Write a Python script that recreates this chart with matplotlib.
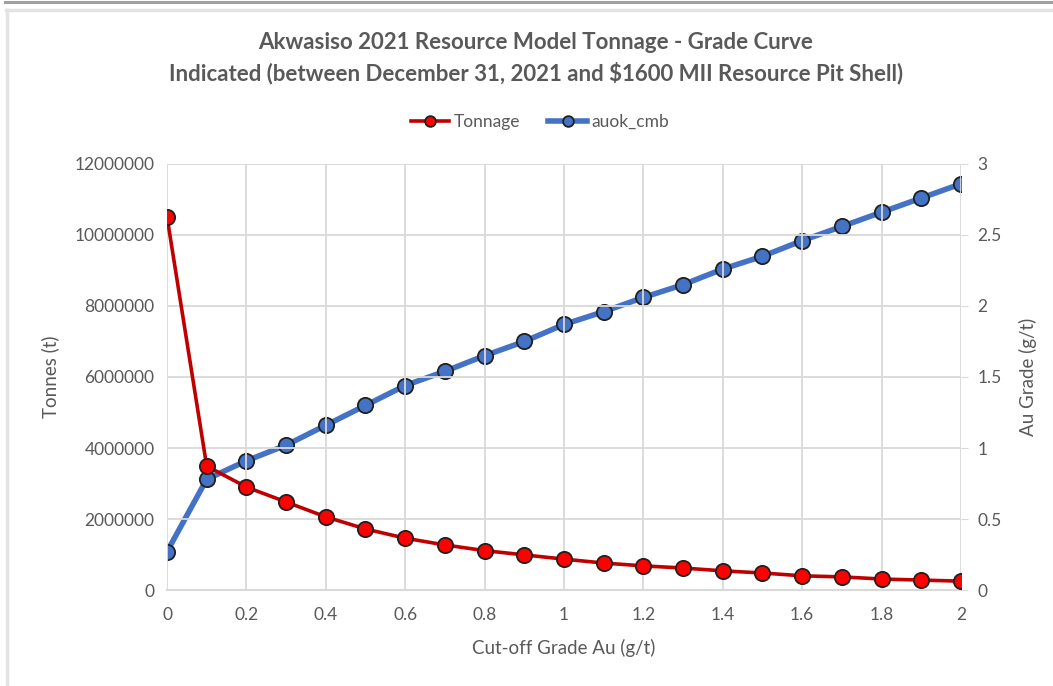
import matplotlib.pyplot as plt
from matplotlib.lines import Line2D

# cut-off grades (g/t)
cutoff = [0.0, 0.1, 0.2, 0.3, 0.4, 0.5, 0.6, 0.7, 0.8, 0.9, 1.0,
          1.1, 1.2, 1.3, 1.4, 1.5, 1.6, 1.7, 1.8, 1.9, 2.0]
# tonnage above cut-off (t)
tonnage = [10510000, 3490000, 2900000, 2480000, 2060000, 1720000, 1460000,
           1270000, 1110000, 990000, 870000, 760000, 680000, 620000, 540000,
           480000, 400000, 370000, 310000, 280000, 250000]
# average grade above cut-off (g/t)
auok_cmb = [0.27, 0.78, 0.91, 1.02, 1.16, 1.30, 1.44, 1.54, 1.65, 1.75, 1.87,
            1.96, 2.06, 2.15, 2.26, 2.35, 2.46, 2.56, 2.66, 2.76, 2.86]

xticks = [0, 0.2, 0.4, 0.6, 0.8, 1, 1.2, 1.4, 1.6, 1.8, 2]
xticklabels = ['0', '0.2', '0.4', '0.6', '0.8', '1', '1.2', '1.4', '1.6', '1.8', '2']
yticks_left = [0, 2000000, 4000000, 6000000, 8000000, 10000000, 12000000]
yticks_right = [0, 0.5, 1, 1.5, 2, 2.5, 3]
yticklabels_right = ['0', '0.5', '1', '1.5', '2', '2.5', '3']

plt.rcParams['font.family'] = ['Lato', 'DejaVu Sans']
txt = '#595959'
grid_c = '#d9d9d9'

fig = plt.figure(figsize=(10.53, 6.86), dpi=100)
ax = fig.add_axes([0.1586, 0.1399, 0.7540, 0.6211])
ax2 = ax.twinx()

# frame lines of the screenshot
fig.add_artist(Line2D([5 / 1053, 1], [1 - 2 / 686, 1 - 2 / 686], color='#a0a0a0', lw=2.2))
fig.add_artist(Line2D([6 / 1053, 1], [1 - 9.5 / 686, 1 - 9.5 / 686], color='#e3e3e3', lw=2.5))
fig.add_artist(Line2D([6.5 / 1053, 6.5 / 1053], [0, 1 - 9.5 / 686], color='#e3e3e3', lw=2.5))

ax.set_xlim(0, 2)
ax.set_ylim(0, 12000000)
ax2.set_ylim(0, 3)
ax.set_xticks(xticks)
ax.set_xticklabels(xticklabels)
ax.set_yticks(yticks_left)
ax.set_yticklabels([str(v) for v in yticks_left])
ax2.set_yticks(yticks_right)
ax2.set_yticklabels(yticklabels_right)

ax.grid(True, color=grid_c, lw=1.3)
ax.set_axisbelow(True)
for a in (ax, ax2):
    for s in a.spines.values():
        s.set_visible(False)
    a.tick_params(colors=txt, labelsize=12.5, length=0, pad=9)
ax.spines['bottom'].set_visible(True)
ax.spines['bottom'].set_color(grid_c)
ax.spines['bottom'].set_linewidth(1.5)
ax.tick_params(axis='x', pad=12)
ax2.tick_params(axis='y', length=5, color=grid_c, pad=7)

l1, = ax.plot(cutoff, tonnage, color='#c00000', lw=2.6, marker='o', ms=11,
              mfc='#ff0000', mec='#202020', mew=1.3, label='Tonnage', zorder=3)
l2, = ax2.plot(cutoff, auok_cmb, color='#4472c4', lw=4, marker='o', ms=11,
               mfc='#4472c4', mec='#202020', mew=1.3, label='auok_cmb', zorder=3)
ax.set_zorder(ax2.get_zorder() + 1)
ax.patch.set_visible(False)

ax.set_xlabel('Cut-off Grade Au (g/t)', color=txt, fontsize=13.5, labelpad=12)
ax.set_ylabel('Tonnes (t)', color=txt, fontsize=13.5, labelpad=11)
ax2.set_ylabel('Au Grade (g/t)', color=txt, fontsize=13.5, labelpad=12)

fig.text(0.509, 0.9155, 'Akwasiso 2021 Resource Model Tonnage - Grade Curve\n'
         'Indicated (between December 31, 2021 and $1600 MII Resource Pit Shell)',
         ha='center', va='center', color=txt, fontsize=16, fontweight='bold',
         linespacing=1.45)

fig.legend(handles=[l1, l2], loc='center', bbox_to_anchor=(0.513, 0.822), ncol=2,
           frameon=False, fontsize=12.5, labelcolor=txt, handlelength=2.2,
           columnspacing=1.6, handletextpad=0.3, markerscale=0.7)

fig.savefig('out.png', dpi=100)
